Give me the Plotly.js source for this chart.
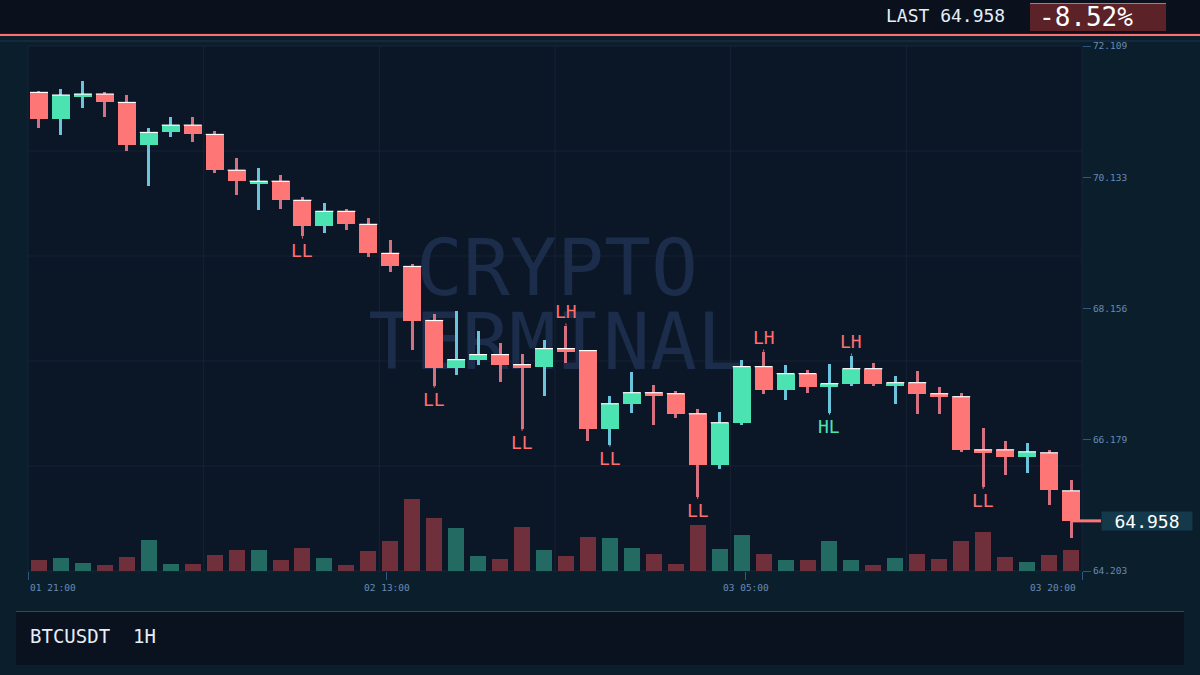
<!DOCTYPE html>
<html>
<head>
<meta charset="utf-8">
<script src="https://cdn.plot.ly/plotly-3.0.1.min.js"></script>
<style>
  html, body { margin: 0; padding: 0; background: #0a1f2b; }
  #chart { width: 1200px; height: 675px; }
</style>
</head>
<body>
<div id="chart"></div>
<script>
// ---------------- DATA ----------------
const symbol = 'BTCUSDT';
const timeframe = '1H';
const lastPrice = 64.958;
const changePct = -8.52;

const opens  = [71.410,71.008,71.344,71.385,71.259,70.615,70.811,70.917,70.777,70.238,70.027,70.072,69.785,69.393,69.619,69.423,
                68.986,68.789,67.975,67.265,67.386,67.462,67.311,67.281,67.552,67.522,66.345,66.722,66.888,66.873,66.571,65.802,
                66.436,67.281,66.934,67.175,66.979,67.024,67.250,66.994,67.039,66.873,66.828,66.028,66.028,65.923,65.983,65.410];
const highs  = [71.430,71.460,71.581,71.415,71.370,70.872,71.038,71.038,70.826,70.419,70.268,70.163,69.831,69.740,69.650,69.514,
                69.182,68.820,68.080,68.125,67.824,67.643,67.477,67.688,67.899,67.537,66.843,67.205,67.009,66.918,66.647,66.602,
                67.386,67.507,67.311,67.235,67.326,67.447,67.341,67.145,67.220,66.979,66.888,66.360,66.164,66.134,66.028,65.576];
const lows   = [70.872,70.766,71.173,71.038,70.525,69.997,70.736,70.660,70.193,69.861,69.634,69.650,69.242,69.287,69.333,68.925,
                68.699,67.537,66.994,67.160,67.311,67.054,66.345,66.843,67.341,66.164,66.104,66.587,66.405,66.511,65.319,65.741,
                66.405,66.873,66.783,66.888,66.587,66.994,66.994,66.722,66.571,66.571,65.998,65.470,65.651,65.681,65.198,64.700];
const closes = [71.008,71.370,71.385,71.264,70.615,70.807,70.917,70.781,70.238,70.072,70.072,69.785,69.393,69.619,69.423,68.986,
                68.789,67.975,67.265,67.386,67.462,67.311,67.265,67.552,67.507,66.345,66.722,66.888,66.843,66.571,65.802,66.436,
                67.281,66.934,67.175,66.979,67.024,67.250,67.024,67.039,66.873,66.828,66.028,65.983,65.923,65.998,65.425,64.958];
const volumes = [1100,1300,800,600,1400,3100,700,700,1600,2100,2100,1100,2300,1300,600,2000,
                 3000,7200,5300,4300,1500,1200,4400,2100,1500,3400,3300,2300,1700,700,4600,2200,
                 3600,1700,1100,1100,3000,1100,600,1300,1700,1200,3000,3900,1400,900,1600,2100];

// swing labels
const swingIdx    = [12, 18, 22, 24, 26, 30, 33, 36, 37, 43];
const swingLabels = ['LL','LL','LL','LH','LL','LL','LH','HL','LH','LL'];

// axis ticks
const xTickIdx    = [0, 16, 32, 47];
const xTickLabels = ['01 21:00', '02 13:00', '03 05:00', '03 20:00'];
const yTickVals   = [64.203, 66.179, 68.156, 70.133, 72.109];
const yTickLabels = ['64.203', '66.179', '68.156', '70.133', '72.109'];

// ---------------- STYLE ----------------
const C = {
  paper: '#0a1f2b', plot: '#0b1626', grid: '#172335', border: '#15253a',
  up: '#4be3b2', down: '#ff7676', upWick: '#6cc3dc', downWick: '#d4707f',
  upVol: '#236a62', downVol: '#6f303c', tick: '#2f5880', tickText: '#6a8ab5',
  salmon: '#ff6f6f', water: '#1b2d4a', text: '#e6eef8'
};
const FONT = 'DejaVu Sans Mono, monospace';
const W = 1200, H = 675, PL = 28, PR = 1082, PT = 46, PB = 571;
const px2x = X => (X - PL) / (PR - PL);
const px2y = Y => (PB - Y) / (PB - PT);

const n = closes.length;
const idx = closes.map((_, i) => i);
const isUp = closes.map((c, i) => c >= opens[i]);
const yMin = yTickVals[0], yMax = yTickVals[yTickVals.length - 1];

// ---------------- TRACES ----------------
const volTrace = {
  type: 'bar', x: idx, y: volumes, yaxis: 'y2', width: 0.73,
  marker: { color: isUp.map(u => u ? C.upVol : C.downVol), line: { width: 0 } },
  hoverinfo: 'skip'
};
const wickTrace = {
  type: 'bar', x: idx, base: lows, y: highs.map((h, i) => h - lows[i]), width: 0.137,
  marker: { color: isUp.map(u => u ? C.upWick : C.downWick), line: { width: 0 } },
  hoverinfo: 'skip'
};
const bodyTrace = {
  type: 'bar', x: idx, base: opens.map((o, i) => Math.min(o, closes[i])),
  y: opens.map((o, i) => Math.max(Math.abs(closes[i] - o), 0.04)), width: 0.82,
  marker: { color: isUp.map(u => u ? C.up : C.down), line: { width: 0 } },
  hoverinfo: 'skip'
};
// white edge on top of each body (line-ew length = 1.4 * size)
const topLine = {
  type: 'scatter', mode: 'markers', x: idx,
  y: opens.map((o, i) => Math.max(o, closes[i])),
  marker: { symbol: 'line-ew', size: 12.8, line: { width: 1.2, color: '#ffffff' } },
  hoverinfo: 'skip'
};

// ---------------- SHAPES ----------------
const shapes = [];
// grid
for (let k = 1; k < 6; k++) shapes.push({ type: 'line', xref: 'paper', yref: 'paper', x0: k / 6, x1: k / 6, y0: 0, y1: 1, line: { color: C.grid, width: 1 }, layer: 'below' });
for (let k = 1; k < 5; k++) shapes.push({ type: 'line', xref: 'paper', yref: 'paper', x0: 0, x1: 1, y0: k / 5, y1: k / 5, line: { color: C.grid, width: 1 }, layer: 'below' });
// watermark
shapes.push({ type: 'rect', xref: 'paper', yref: 'paper', x0: px2x(357), x1: px2x(757), y0: px2y(300), y1: px2y(224),
  line: { width: 0 }, fillcolor: 'rgba(0,0,0,0)', layer: 'below',
  label: { text: 'CRYPTO', textposition: 'middle center', font: { family: FONT, size: 78, color: C.water } } });
shapes.push({ type: 'rect', xref: 'paper', yref: 'paper', x0: px2x(306), x1: px2x(806), y0: px2y(374), y1: px2y(298),
  line: { width: 0 }, fillcolor: 'rgba(0,0,0,0)', layer: 'below',
  label: { text: 'TERMINAL', textposition: 'middle center', font: { family: FONT, size: 78, color: C.water } } });
// plot border
shapes.push({ type: 'rect', xref: 'paper', yref: 'paper', x0: 0, x1: 1, y0: 0, y1: 1, line: { color: C.border, width: 1 }, fillcolor: 'rgba(0,0,0,0)', layer: 'below' });
// header
shapes.push({ type: 'rect', xref: 'paper', yref: 'paper', x0: px2x(0), x1: px2x(W), y0: px2y(33), y1: px2y(0), line: { width: 0 }, fillcolor: '#0a111d', layer: 'below' });
shapes.push({ type: 'rect', xref: 'paper', yref: 'paper', x0: px2x(0), x1: px2x(W), y0: px2y(36), y1: px2y(34), line: { width: 0 }, fillcolor: C.salmon, layer: 'below' });
shapes.push({ type: 'rect', xref: 'paper', yref: 'paper', x0: px2x(0), x1: px2x(W), y0: px2y(42), y1: px2y(40), line: { width: 0 }, fillcolor: '#15283c', layer: 'below' });
shapes.push({ type: 'rect', xref: 'paper', yref: 'paper', x0: px2x(1030), x1: px2x(1166), y0: px2y(31), y1: px2y(3), line: { width: 0 }, fillcolor: '#5b2228', layer: 'below' });
shapes.push({ type: 'line', xref: 'paper', yref: 'paper', x0: px2x(1030), x1: px2x(1166), y0: px2y(3.5), y1: px2y(3.5), line: { width: 1, color: '#e06464' }, layer: 'below' });
// footer panel
shapes.push({ type: 'rect', xref: 'paper', yref: 'paper', x0: px2x(16), x1: px2x(1184), y0: px2y(665), y1: px2y(611), line: { width: 0 }, fillcolor: '#0a121f', layer: 'below' });
shapes.push({ type: 'line', xref: 'paper', yref: 'paper', x0: px2x(16), x1: px2x(1184), y0: px2y(611.5), y1: px2y(611.5), line: { width: 1, color: '#2a4868' }, layer: 'below' });
// last price line
const lastClose = closes[n - 1];
const lastY = (lastClose - yMin) / (yMax - yMin);
shapes.push({ type: 'line', xref: 'paper', yref: 'paper', x0: (n - 1 + 0.5) / n, x1: px2x(1101), y0: lastY, y1: lastY, line: { width: 3, color: C.down }, layer: 'above' });

// ---------------- ANNOTATIONS ----------------
const annotations = [];
const xTickPos = xTickIdx.map(i => -0.5 + i * n / (n - 1));
xTickLabels.forEach((t, k) => {
  const anchor = k === 0 ? 'left' : (k === xTickLabels.length - 1 ? 'right' : 'center');
  annotations.push({ xref: 'x', yref: 'paper', x: xTickPos[k], y: px2y(587), xanchor: anchor, yanchor: 'middle',
    xshift: k === xTickLabels.length - 1 ? -4 : 0,
    text: t, showarrow: false, font: { family: FONT, size: 9.5, color: C.tickText } });
});
swingIdx.forEach((i, k) => {
  const lab = swingLabels[k];
  const below = lab.endsWith('L');
  annotations.push({ xref: 'x', yref: 'y', x: i, y: below ? lows[i] : highs[i], text: lab,
    showarrow: true, arrowhead: 0, arrowwidth: 1, arrowcolor: lab === 'HL' ? C.up : C.salmon,
    ax: 0, ay: below ? 14 : -14, standoff: 0,
    font: { family: FONT, size: 18, color: lab === 'HL' ? C.up : C.salmon } });
});
annotations.push({ xref: 'paper', yref: 'paper', x: px2x(1007), y: px2y(15), xanchor: 'right', yanchor: 'middle',
  text: 'LAST ' + lastPrice.toFixed(3), showarrow: false, font: { family: FONT, size: 18, color: C.text } });
annotations.push({ xref: 'paper', yref: 'paper', x: px2x(1037), y: px2y(17), xanchor: 'left', yanchor: 'middle',
  text: changePct.toFixed(2) + '%', showarrow: false, font: { family: FONT, size: 26, color: '#ffffff' } });
annotations.push({ xref: 'paper', yref: 'paper', x: px2x(1147), y: lastY, xanchor: 'center', yanchor: 'middle',
  text: lastClose.toFixed(3), showarrow: false, bgcolor: '#14394a', width: 90, height: 18, borderpad: 0,
  font: { family: FONT, size: 18, color: '#ffffff' } });
annotations.push({ xref: 'paper', yref: 'paper', x: px2x(28), y: px2y(636), xanchor: 'left', yanchor: 'middle',
  text: symbol + '\u00a0\u00a0' + timeframe, showarrow: false, font: { family: FONT, size: 19, color: C.text } });

// ---------------- LAYOUT ----------------
const layout = {
  width: W, height: H,
  margin: { l: PL, r: W - PR, t: PT, b: H - PB, pad: 0 },
  paper_bgcolor: C.paper, plot_bgcolor: C.plot,
  showlegend: false, barmode: 'overlay', bargap: 0,
  font: { family: FONT, color: C.tickText },
  xaxis: { range: [-0.5, n - 0.5], showgrid: false, zeroline: false, showline: false,
    tickmode: 'array', tickvals: xTickPos, showticklabels: false,
    ticks: 'outside', ticklen: 8, tickwidth: 1, tickcolor: C.tick, fixedrange: true },
  yaxis: { range: [yMin, yMax], side: 'right', showgrid: false, zeroline: false, showline: false,
    tickmode: 'array', tickvals: yTickVals, ticktext: yTickLabels,
    ticks: 'outside', ticklen: 8, tickwidth: 1, tickcolor: C.tick,
    tickfont: { family: FONT, size: 9.5, color: C.tickText }, fixedrange: true },
  yaxis2: { overlaying: 'y', range: [0, 52500], visible: false, fixedrange: true },
  shapes: shapes,
  annotations: annotations
};

Plotly.newPlot('chart', [volTrace, wickTrace, bodyTrace, topLine], layout, { displayModeBar: false, staticPlot: true });
</script>
</body>
</html>
